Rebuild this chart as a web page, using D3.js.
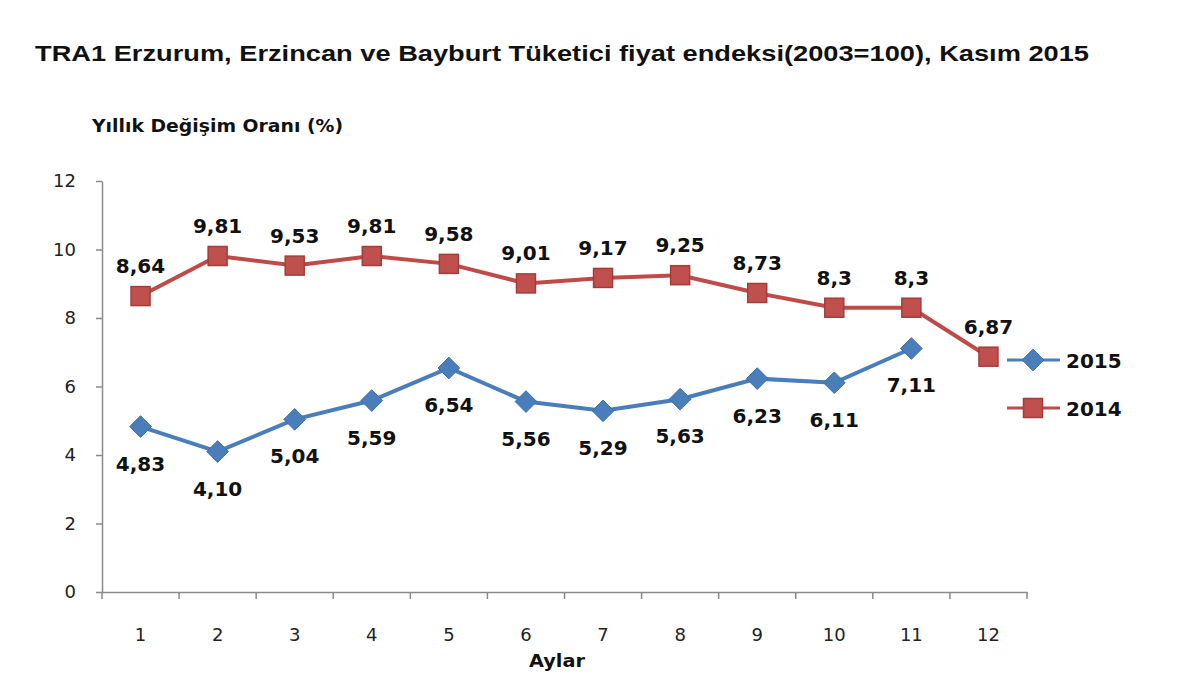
<!DOCTYPE html>
<html>
<head>
<meta charset="utf-8">
<script src="https://cdn.jsdelivr.net/npm/d3@7"></script>
<style>
  body { margin: 0; background: #fff; }
  svg { display: block; }
</style>
</head>
<body>
<svg id="chart" width="1200" height="675"></svg>
<script>
const months = ["1", "2", "3", "4", "5", "6", "7", "8", "9", "10", "11", "12"];
const values2015 = [4.83, 4.10, 5.04, 5.59, 6.54, 5.56, 5.29, 5.63, 6.23, 6.11, 7.11];
const labels2015 = ["4,83", "4,10", "5,04", "5,59", "6,54", "5,56", "5,29", "5,63", "6,23", "6,11", "7,11"];
const values2014 = [8.64, 9.81, 9.53, 9.81, 9.58, 9.01, 9.17, 9.25, 8.73, 8.3, 8.3, 6.87];
const labels2014 = ["8,64", "9,81", "9,53", "9,81", "9,58", "9,01", "9,17", "9,25", "8,73", "8,3", "8,3", "6,87"];
const yTicks = [0, 2, 4, 6, 8, 10, 12];

const svg = d3.select("#chart");
const labelFont = "DejaVu Sans, Verdana, sans-serif";

const x = d3.scaleBand().domain(months).range([102, 1027]);
const y = d3.scaleLinear().domain([0, 12]).range([592, 181]);
const cx = (i) => x(months[i]) + x.bandwidth() / 2;

// title
svg.append("text")
  .attr("x", 35)
  .attr("y", 61)
  .attr("font-family", "Liberation Sans, Arial, sans-serif")
  .attr("font-weight", "bold")
  .attr("font-size", "22px")
  .attr("fill", "#111")
  .attr("textLength", 1054)
  .attr("lengthAdjust", "spacingAndGlyphs")
  .text("TRA1 Erzurum, Erzincan ve Bayburt Tüketici fiyat endeksi(2003=100), Kasım 2015");

svg.append("text")
  .attr("x", 92)
  .attr("y", 132)
  .attr("font-family", labelFont)
  .attr("font-weight", "bold")
  .attr("font-size", "18px")
  .attr("fill", "#111")
  .attr("textLength", 251)
  .attr("lengthAdjust", "spacingAndGlyphs")
  .text("Yıllık Değişim Oranı (%)");

// axes
const yAxis = svg.append("g")
  .attr("transform", "translate(102,0)")
  .call(d3.axisLeft(y).tickValues(yTicks).tickSize(6).tickPadding(20).tickSizeOuter(0));

const xAxis = svg.append("g")
  .attr("transform", "translate(0,592)")
  .call(d3.axisBottom(x).tickSize(0).tickPadding(36));

// x ticks sit on the band edges
xAxis.selectAll(".edge")
  .data(months.concat(["end"]))
  .join("line")
  .attr("class", "edge")
  .attr("x1", (d, i) => 102 + i * x.step())
  .attr("x2", (d, i) => 102 + i * x.step())
  .attr("y1", 0)
  .attr("y2", 7)
  .attr("stroke", "#8a8a8a")
  .attr("stroke-width", 1.5);

[yAxis, xAxis].forEach((ax) => {
  ax.select(".domain").attr("stroke", "#8a8a8a").attr("stroke-width", 1.5);
  ax.selectAll(".tick line").attr("stroke", "#8a8a8a").attr("stroke-width", 1.5);
  ax.selectAll(".tick text")
    .attr("font-family", labelFont)
    .attr("font-size", "18px")
    .attr("fill", "#222");
});

svg.append("text")
  .attr("x", 557)
  .attr("y", 667)
  .attr("text-anchor", "middle")
  .attr("font-family", labelFont)
  .attr("font-weight", "bold")
  .attr("font-size", "18px")
  .attr("fill", "#111")
  .attr("textLength", 56)
  .attr("lengthAdjust", "spacingAndGlyphs")
  .text("Aylar");

// series
const blue = "#4a7ebb";
const red = "#c0504d";
const redDark = "#a33d3a";

const line = d3.line().x((d, i) => cx(i)).y((d) => y(d));

svg.append("path")
  .datum(values2014)
  .attr("d", line)
  .attr("fill", "none")
  .attr("stroke", "#be4b48")
  .attr("stroke-width", 4);

svg.append("path")
  .datum(values2015)
  .attr("d", line)
  .attr("fill", "none")
  .attr("stroke", blue)
  .attr("stroke-width", 4);

const diamond = d3.symbol().type(d3.symbolDiamond2).size(300);

function drawSquare(g, px, py) {
  g.append("rect")
    .attr("x", px - 9.5)
    .attr("y", py - 9.5)
    .attr("width", 19)
    .attr("height", 19)
    .attr("fill", red)
    .attr("stroke", redDark)
    .attr("stroke-width", 1.5);
}

function drawDiamond(g, px, py) {
  g.append("path")
    .attr("d", diamond)
    .attr("transform", `translate(${px},${py})`)
    .attr("fill", blue)
    .attr("stroke", "#3d6ea8")
    .attr("stroke-width", 1);
}

const marks = svg.append("g");
values2014.forEach((v, i) => drawSquare(marks, cx(i), y(v)));
values2015.forEach((v, i) => drawDiamond(marks, cx(i), y(v)));

// data labels
svg.append("g")
  .selectAll("text")
  .data(values2014)
  .join("text")
  .attr("x", (d, i) => cx(i))
  .attr("y", (d) => y(d) - 23)
  .attr("text-anchor", "middle")
  .attr("font-family", labelFont)
  .attr("font-weight", "bold")
  .attr("font-size", "20px")
  .attr("fill", "#111")
  .text((d, i) => labels2014[i]);

svg.append("g")
  .selectAll("text")
  .data(values2015)
  .join("text")
  .attr("x", (d, i) => cx(i))
  .attr("y", (d) => y(d) + 44)
  .attr("text-anchor", "middle")
  .attr("font-family", labelFont)
  .attr("font-weight", "bold")
  .attr("font-size", "20px")
  .attr("fill", "#111")
  .text((d, i) => labels2015[i]);

// legend
const legend = svg.append("g");
const legendItems = [
  { name: "2015", color: blue, y: 360, draw: drawDiamond },
  { name: "2014", color: "#be4b48", y: 408, draw: drawSquare }
];
legendItems.forEach((d) => {
  legend.append("line")
    .attr("x1", 1007).attr("x2", 1060)
    .attr("y1", d.y).attr("y2", d.y)
    .attr("stroke", d.color)
    .attr("stroke-width", 3);
  d.draw(legend, 1033, d.y);
  legend.append("text")
    .attr("x", 1066)
    .attr("y", d.y + 8)
    .attr("font-family", labelFont)
    .attr("font-weight", "bold")
    .attr("font-size", "20px")
    .attr("fill", "#111")
    .text(d.name);
});
</script>
</body>
</html>
